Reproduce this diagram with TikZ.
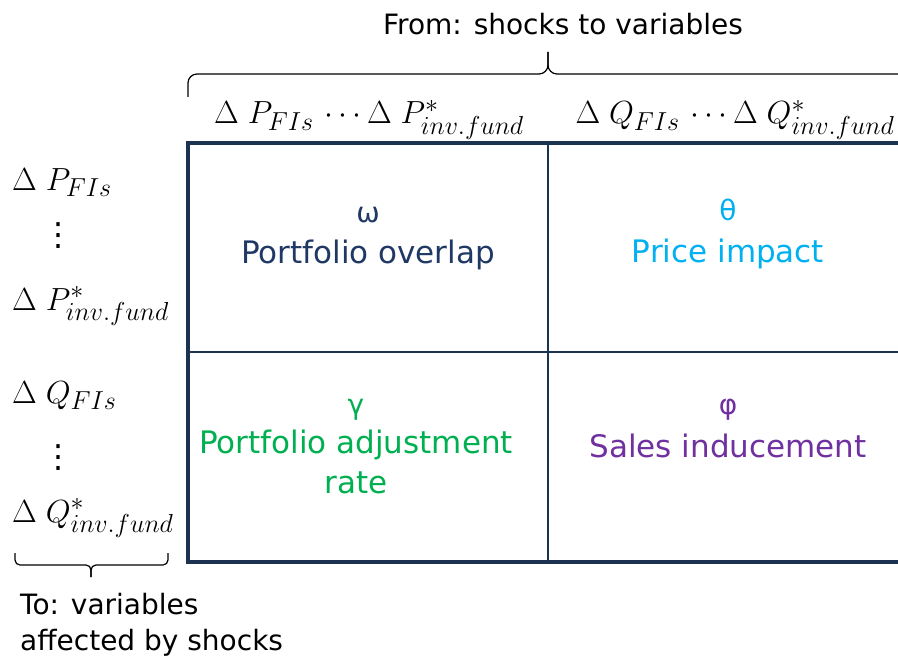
\RequirePackage{fix-cm}
\documentclass[tikz,border=0pt]{standalone}
\usepackage{amsmath}
\usepackage{fontspec}
\setmainfont{DejaVu Sans}
\usepackage{xcolor}
\usepackage{tikz}
\usetikzlibrary{positioning}
\DeclareMathSizes{32}{32}{26}{18}

\definecolor{navy}{HTML}{1F3864}
\definecolor{framenavy}{HTML}{1B3350}
\definecolor{skyblue}{HTML}{00B0F0}
\definecolor{leafgreen}{HTML}{00B050}
\definecolor{violet}{HTML}{7030A0}

\begin{document}
\begin{tikzpicture}[x=1pt, y=-1pt, inner sep=0pt,
    celltext/.style={font=\fontsize{31}{36}\selectfont, align=center},
    greek/.style={font=\fontsize{28}{32}\selectfont},
    mathlab/.style={font=\fontsize{32}{38}\selectfont},
    bracket/.style={line width=1.2pt, rounded corners=#1}]
        % canvas
        \useasboundingbox (0,0) rectangle (898,661);
        \clip (0,0) rectangle (898,661);

        % grid corners
        \coordinate (tl) at (188,143);
        \coordinate (br) at (930,562);
        \coordinate (mt) at (548,143);
        \coordinate (mb) at (548,562);
        \coordinate (ml) at (188,352);
        \coordinate (mr) at (930,352);

        % grid lines and frame
        \draw[framenavy, line width=1.3pt] (mt) -- (mb);
        \draw[framenavy, line width=1.3pt] (ml) -- (mr);
        \draw[framenavy, line width=4pt] (tl) rectangle (br);

        % top brace and title
        \coordinate (tb1) at (188,97);
        \coordinate (tb2) at (908,97);
        \coordinate (tbmid) at (548,74);
        \coordinate (tbtip) at (548,52);
        \draw[bracket=9pt] (tb1) |- (tbmid) -- (tbtip);
        \draw[bracket=9pt] (tb2) |- (tbmid) -- (tbtip);
        \node[anchor=base, font=\fontsize{28}{32}\selectfont] (from) at (563,35) {From: shocks to variables};

        % column heads
        \node[anchor=base, mathlab] (hP) at (369,124) {$\Delta\;P_{FIs}\,\cdots\Delta\;P^{*}_{inv.fund}$};
        \node[anchor=base, mathlab] (hQ) at (735,124) {$\Delta\;Q_{FIs}\,\cdots\Delta\;Q^{*}_{inv.fund}$};

        % row heads
        \node[anchor=base west, mathlab] (rP1) at (12,190) {$\Delta\;P_{FIs}$};
        \node[mathlab] (rPd) at (58,236) {⋮};
        \node[anchor=base west, mathlab] (rP2) at (12,310) {$\Delta\;P^{*}_{inv.fund}$};
        \node[anchor=base west, mathlab] (rQ1) at (12,403) {$\Delta\;Q_{FIs}$};
        \node[mathlab] (rQd) at (58,458) {⋮};
        \node[anchor=base west, mathlab] (rQ2) at (12,522) {$\Delta\;Q^{*}_{inv.fund}$};

        % bottom brace and caption
        \coordinate (bb1) at (15,553);
        \coordinate (bb2) at (168,553);
        \coordinate (bbmid) at (91,565);
        \coordinate (bbtip) at (91,577);
        \draw[bracket=5pt] (bb1) |- (bbmid) -- (bbtip);
        \draw[bracket=5pt] (bb2) |- (bbmid) -- (bbtip);
        \node[anchor=north west, align=left, font=\fontsize{28}{36}\selectfont] (to) at (20,593) {To: variables\\affected by shocks};

        % cells
        \node[greek, navy] (omega) at (368,215) {ω};
        \node[anchor=base, celltext, navy] (overlap) at (368,263) {Portfolio overlap};
        \node[greek, skyblue] (theta) at (728,210) {θ};
        \node[anchor=base, celltext, skyblue] (impact) at (728,262) {Price impact};
        \node[greek, leafgreen] (gamma) at (356,410) {γ};
        \node[anchor=base, celltext, leafgreen] (adjust) at (356,453) {Portfolio adjustment};
        \node[anchor=base, celltext, leafgreen] (rate) at (356,493) {rate};
        \node[greek, violet] (phi) at (728,410) {φ};
        \node[anchor=base, celltext, violet] (induce) at (728,457) {Sales inducement};
    \end{tikzpicture}
\end{document}
